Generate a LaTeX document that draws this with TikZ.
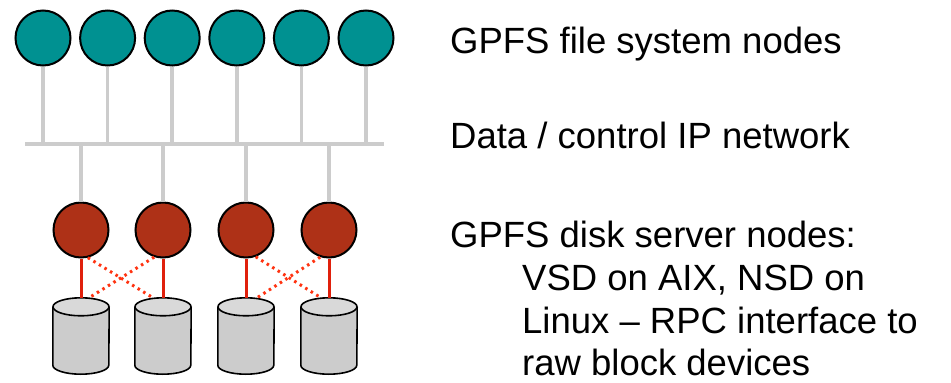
\documentclass[tikz,border=0pt]{standalone}
\usepackage{fontspec}
\setmainfont{Liberation Sans}
\definecolor{fsTeal}{HTML}{009191}
\definecolor{srvRed}{HTML}{AE3117}
\definecolor{netGray}{HTML}{CCCCCC}
\definecolor{diskTop}{HTML}{D9D9D9}
\definecolor{linkRed}{HTML}{E0200C}
\definecolor{dotRed}{HTML}{FF3311}

\tikzset{
  fsnode/.style={circle, draw=black, line width=2pt, fill=fsTeal, minimum size=55pt, inner sep=0pt},
  srvnode/.style={circle, draw=black, line width=2pt, fill=srvRed, minimum size=55pt, inner sep=0pt},
  disk/.style={rectangle, minimum width=56pt, minimum height=76pt, inner sep=0pt},
  diskline/.style={draw=black, line width=1.6pt},
  net/.style={netGray, line width=3.5pt},
  link/.style={linkRed, line width=3pt},
  backup/.style={dotRed, line width=3pt, dash pattern=on 2.5pt off 4pt},
  label/.style={font=\fontsize{36.5}{44}\selectfont, anchor=base west, inner sep=0pt}
}

\begin{document}
\begin{tikzpicture}[x=1pt, y=-1pt]
\useasboundingbox (0,0) rectangle (951,383);

% network bus
\coordinate (busL) at (25,144);
\coordinate (busR) at (384,144);
\draw[net] (busL) -- (busR);

% file system nodes
\foreach \i in {1,...,6} {
  \node[fsnode] (fs\i) at ({43+64.6*(\i-1)},38) {};
  \draw[net] (fs\i) -- (fs\i |- busL);
}

% disk server nodes and disks
\foreach \i/\x in {1/81, 2/163, 3/246, 4/329} {
  \node[srvnode] (srv\i) at (\x,230) {};
  \node[disk] (disk\i) at (\x,336) {};
  \draw[diskline, fill=netGray] ([yshift=-9pt]disk\i.north west)
    -- ([yshift=9pt]disk\i.south west)
    arc[start angle=180, end angle=0, x radius=28, y radius=9]
    -- ([yshift=-9pt]disk\i.north east);
  \draw[diskline, fill=diskTop] ([yshift=-9pt]disk\i.north) ellipse [x radius=28, y radius=9];
  \draw[net] (srv\i) -- (srv\i |- busL);
  \draw[link] (srv\i) -- (disk\i.north);
}

% twin-tailed backup paths
\draw[backup] (srv1.-76) -- ([xshift=-10pt]disk2.north);
\draw[backup] (srv2.-108) -- ([xshift=8pt]disk1.north);
\draw[backup] (srv3.-70) -- ([xshift=-8pt]disk4.north);
\draw[backup] (srv4.-108) -- ([xshift=11pt]disk3.north);

% labels
\node[label] (fsText) at (450,53) {GPFS file system nodes};
\node[label] (netText) at (450,148) {Data / control IP network};
\node[label] (srvText) at (450,247) {GPFS disk server nodes:};
\node[label] (srvLineA) at (522,290) {VSD on AIX, NSD on};
\node[label] (srvLineB) at (522,333) {Linux – RPC interface to};
\node[label] (srvLineC) at (522,375) {raw block devices};
\end{tikzpicture}
\end{document}
